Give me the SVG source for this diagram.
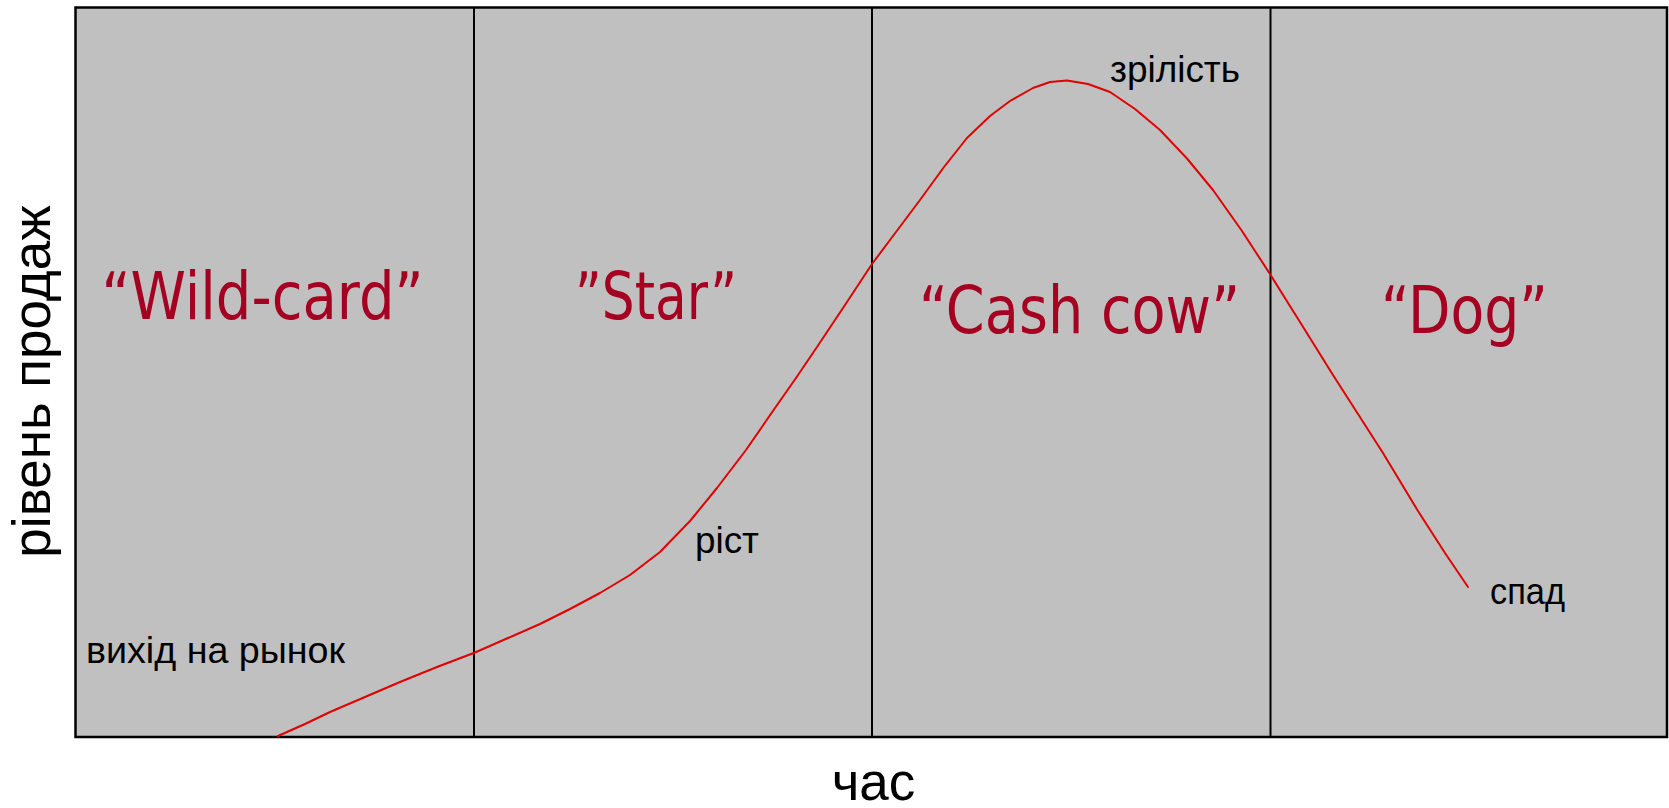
<svg xmlns="http://www.w3.org/2000/svg" width="1669" height="808" viewBox="0 0 1669 808">
<style>
.phase{font-family:"DejaVu Sans","Verdana",sans-serif;font-size:66px;fill:#a50021;}
.lbl{font-family:"Liberation Sans",Arial,sans-serif;font-size:37px;fill:#000;}
.axis{font-family:"Liberation Sans",Arial,sans-serif;font-size:53px;fill:#000;}
.div{stroke:#000;stroke-width:2;fill:none;}
</style>
<rect width="1669" height="808" fill="#fff"/>
<g id="frame">
<rect x="75.5" y="7.5" width="1591.5" height="729.5" fill="#c0c0c0" stroke="#000" stroke-width="2.5"/>
</g>
<g id="dividers">
<line class="div" x1="474" y1="7.5" x2="474" y2="737"/>
<line class="div" x1="872" y1="7.5" x2="872" y2="737"/>
<line class="div" x1="1270.5" y1="7.5" x2="1270.5" y2="737"/>
</g>
<g id="connectors">
<polyline id="curve" fill="none" stroke="#e00000" stroke-width="2" stroke-linejoin="round" stroke-linecap="round" points="278,736 305,724 330,712 365,697 400,682 437,667 475,652.5 508,638 540,624 570,609 600,593 630,575 660,552 690,521 717,488 746,450 775,408 796,378 817,347 845,305 872,264 896,232 920,200 944,167 967,138 990,116 1010,101 1033,88 1050,82 1067,80.5 1088,84 1110,92 1135,109 1160,130 1187,158.5 1213,190 1242,231 1270,274 1300,322 1333,375 1358,414 1383,453 1418,511 1445,553 1468,587"/>
</g>
<g id="wild-card">
<text class="phase" x="101.5" y="318.5" textLength="322" lengthAdjust="spacingAndGlyphs">“Wild-card”</text>
<text class="lbl" x="86" y="663" textLength="259" lengthAdjust="spacingAndGlyphs">вихід на рынок</text>
</g>
<g id="star">
<text class="phase" x="575" y="318.5" textLength="162" lengthAdjust="spacingAndGlyphs">”Star”</text>
<text class="lbl" x="695" y="553" textLength="64" lengthAdjust="spacingAndGlyphs">ріст</text>
</g>
<g id="cash-cow">
<text class="phase" x="919" y="333" textLength="321" lengthAdjust="spacingAndGlyphs">“Cash cow”</text>
<text class="lbl" x="1110" y="82" textLength="130" lengthAdjust="spacingAndGlyphs">зрілість</text>
</g>
<g id="dog">
<text class="phase" x="1381" y="333" textLength="167" lengthAdjust="spacingAndGlyphs">“Dog”</text>
<text class="lbl" x="1490" y="604" textLength="75" lengthAdjust="spacingAndGlyphs">спад</text>
</g>
<g id="x-axis-label">
<text class="axis" x="873.5" y="800" text-anchor="middle">час</text>
</g>
<g id="y-axis-label">
<text class="axis" transform="translate(50,381.5) rotate(-90)" text-anchor="middle">рівень продаж</text>
</g>
</svg>
